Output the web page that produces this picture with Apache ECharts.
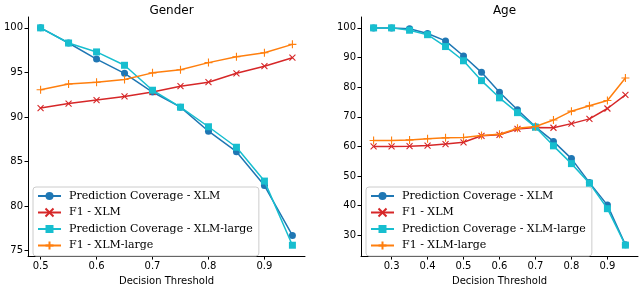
<!DOCTYPE html>
<html>
<head>
<meta charset="utf-8">
<script src="https://cdn.jsdelivr.net/npm/echarts@6/dist/echarts.min.js"></script>
<style>html,body{margin:0;padding:0;background:#fff;}#c{width:640px;height:291px;}</style>
</head>
<body>
<div id="c"></div>
<script>
const seriesNames = ['Prediction Coverage - XLM', 'F1 - XLM', 'Prediction Coverage - XLM-large', 'F1 - XLM-large'];
const titles = ['Gender', 'Age'];
const xName = 'Decision Threshold';

const genderX = [0.5, 0.55, 0.6, 0.65, 0.7, 0.75, 0.8, 0.85, 0.9, 0.95];
const genderCovXLM = [100, 98.3, 96.5, 94.9, 92.8, 91.1, 88.4, 86.1, 82.3, 76.7];
const genderF1XLM = [91.0, 91.5, 91.9, 92.3, 92.8, 93.45, 93.9, 94.9, 95.7, 96.65];
const genderCovLarge = [100, 98.3, 97.3, 95.8, 93.0, 91.1, 88.9, 86.6, 82.8, 75.6];
const genderF1Large = [93.05, 93.7, 93.9, 94.2, 94.95, 95.3, 96.1, 96.75, 97.2, 98.15];

const ageX = [0.25, 0.3, 0.35, 0.4, 0.45, 0.5, 0.55, 0.6, 0.65, 0.7, 0.75, 0.8, 0.85, 0.9, 0.95];
const ageCovXLM = [100, 100, 99.7, 98.1, 95.6, 90.5, 85.0, 78.3, 72.4, 66.6, 61.7, 55.9, 47.8, 40.2, 26.8];
const ageF1XLM = [60.0, 60.0, 60.1, 60.3, 60.8, 61.4, 63.6, 63.9, 65.9, 66.4, 66.3, 67.7, 69.3, 72.8, 77.4];
const ageCovLarge = [100, 100, 99.2, 97.7, 93.7, 88.9, 82.2, 76.4, 71.4, 66.5, 60.2, 54.2, 47.6, 39.0, 26.7];
const ageF1Large = [62.0, 62.0, 62.2, 62.6, 62.9, 63.0, 63.7, 64.1, 66.1, 66.7, 68.9, 71.9, 73.7, 75.5, 83.1];

const genderXTicks = [0.5, 0.6, 0.7, 0.8, 0.9];
const genderYTicks = [75, 80, 85, 90, 95, 100];
const ageXTicks = [0.3, 0.4, 0.5, 0.6, 0.7, 0.8, 0.9];
const ageYTicks = [30, 40, 50, 60, 70, 80, 90, 100];

const colors = ['#1f77b4', '#d62728', '#17becf', '#ff7f0e'];
const symbols = ['circle', 'path://M0,0L10,10M0,10L10,0', 'rect', 'path://M5,0L5,10M0,5L10,5'];
const symSizes = [7, 6, 7, 8];

function pairs(xs, ys) { return xs.map((x, i) => [x, ys[i]]); }

function mkSeries(idx, xs, ys, k) {
  const isPath = k === 1 || k === 3;
  return {
    name: seriesNames[k], type: 'line', xAxisIndex: idx, yAxisIndex: idx,
    data: pairs(xs, ys), symbol: symbols[k], symbolSize: symSizes[k],
    showAllSymbol: true, z: 2 + k,
    lineStyle: { color: colors[k], width: 1.5 },
    itemStyle: { color: isPath ? 'none' : colors[k], borderColor: colors[k], borderWidth: isPath ? 1.1 : 0 },
    emphasis: { disabled: true }, animation: false
  };
}

const axisCommon = {
  type: 'value', splitLine: { show: false },
  axisLine: { show: true, onZero: false, lineStyle: { color: '#000', width: 1 } },
  axisTick: { show: true, length: 3.5, inside: false, lineStyle: { color: '#000', width: 1 } },
};
function xAx(idx, min, max, ticks) {
  return Object.assign({}, axisCommon, {
    gridIndex: idx, min: min, max: max,
    name: xName, nameLocation: 'middle', nameGap: 18,
    nameTextStyle: { fontFamily: 'DejaVu Sans', fontSize: 10, color: '#000' },
    axisTick: Object.assign({}, axisCommon.axisTick, { customValues: ticks }),
    axisLabel: { customValues: ticks, fontFamily: 'DejaVu Sans', fontSize: 10, color: '#000', margin: 5, formatter: v => String(+v.toFixed(2)) }
  });
}
function yAx(idx, min, max, ticks) {
  return Object.assign({}, axisCommon, {
    gridIndex: idx, min: min, max: max,
    axisTick: Object.assign({}, axisCommon.axisTick, { customValues: ticks }),
    axisLabel: { customValues: ticks, fontFamily: 'DejaVu Sans', fontSize: 10, color: '#000', margin: 5, formatter: v => String(Math.round(v)) }
  });
}
function legend(left) {
  return {
    data: seriesNames, orient: 'vertical', left: left, top: 187,
    itemWidth: 23, itemHeight: 10, itemGap: 4,
    padding: [3, 6, 4, 4], borderColor: '#cccccc', borderWidth: 1, borderRadius: 3,
    backgroundColor: 'rgba(255,255,255,0.8)',
    textStyle: { fontFamily: 'DejaVu Serif', fontSize: 11, lineHeight: 12, color: '#000', padding: [0, 0, 0, 3] },
    selectedMode: false
  };
}

const chart = echarts.init(document.getElementById('c'), null, { renderer: 'canvas' });
chart.setOption({
  animation: false,
  title: [
    { text: titles[0], left: 166.5, top: 0, textAlign: 'center', textStyle: { fontFamily: 'DejaVu Sans', fontSize: 12, fontWeight: 'normal', color: '#000' } },
    { text: titles[1], left: 499.5, top: 0, textAlign: 'center', textStyle: { fontFamily: 'DejaVu Sans', fontSize: 12, fontWeight: 'normal', color: '#000' } }
  ],
  grid: [
    { left: 28, right: 335, top: 17, bottom: 31 },
    { left: 361, right: 2, top: 17, bottom: 31 }
  ],
  xAxis: [xAx(0, 0.4775, 0.9725, genderXTicks), xAx(1, 0.215, 0.985, ageXTicks)],
  yAxis: [yAx(0, 74.38, 101.22, genderYTicks), yAx(1, 23.0, 103.67, ageYTicks)],
  legend: [legend(33), legend(366)],
  series: [
    mkSeries(0, genderX, genderCovXLM, 0),
    mkSeries(0, genderX, genderF1XLM, 1),
    mkSeries(0, genderX, genderCovLarge, 2),
    mkSeries(0, genderX, genderF1Large, 3),
    mkSeries(1, ageX, ageCovXLM, 0),
    mkSeries(1, ageX, ageF1XLM, 1),
    mkSeries(1, ageX, ageCovLarge, 2),
    mkSeries(1, ageX, ageF1Large, 3)
  ]
});
</script>
</body>
</html>
